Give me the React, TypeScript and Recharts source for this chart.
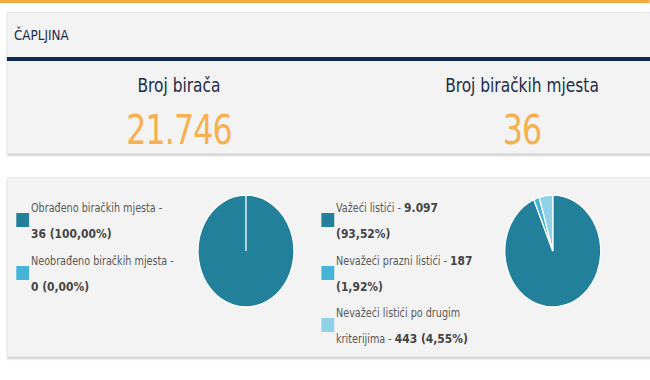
import { PieChart, Pie, Cell } from 'recharts';

// horizontal squeeze of the original screenshot
const SX = 0.857;

const municipality = 'ČAPLJINA';
const statLabels = ['Broj birača', 'Broj biračkih mjesta'];
const statValues = ['21.746', '36'];

const stationLabels = ['Obrađeno biračkih mjesta', 'Neobrađeno biračkih mjesta'];
const stationValues = [36, 0];

const ballotLabels = ['Važeći listići', 'Nevažeći prazni listići', 'Nevažeći listići po drugim kriterijima'];
const ballotValues = [9097, 187, 443];

const COLORS = ['#23809b', '#45b4d6', '#8fd1e7'];

const fmtInt = (n: number) => n.toString().replace(/\B(?=(\d{3})+(?!\d))/g, '.');
const fmtPct = (n: number, total: number) =>
  (total ? (n / total) * 100 : 0).toFixed(2).replace('.', ',') + '%';

const font = '"DejaVu Sans", Verdana, sans-serif';
const narrow = '"DejaVu Sans Condensed", "DejaVu Sans", sans-serif';

function Swatch({ color, top, left }: { color: string; top: number; left: number }) {
  return (
    <div
      style={{
        position: 'absolute',
        left,
        top,
        width: 15,
        height: 14,
        backgroundColor: color,
      }}
    />
  );
}

function Line({ top, left, children }: { top: number; left: number; children: React.ReactNode }) {
  return (
    <div
      style={{
        position: 'absolute',
        left,
        top: top - 10,
        height: 20,
        lineHeight: '20px',
        fontSize: 12.5,
        fontFamily: narrow,
        fontStretch: 'condensed',
        color: '#595959',
        whiteSpace: 'nowrap',
      }}
    >
      {children}
    </div>
  );
}

const B = ({ children }: { children: React.ReactNode }) => (
  <b style={{ color: '#444', fontFamily: font, fontStretch: 'normal' }}>{children}</b>
);

function SmallPie({ values, cx }: { values: number[]; cx: number }) {
  const data = values.map((v, i) => ({ name: String(i), value: v }));
  return (
    <div style={{ position: 'absolute', left: cx - 65, top: 251 - 65 }}>
      <PieChart width={130} height={130} margin={{ top: 0, right: 0, bottom: 0, left: 0 }}>
        <Pie
          data={data}
          dataKey="value"
          cx="50%"
          cy="50%"
          outerRadius={56}
          startAngle={90}
          endAngle={-270}
          stroke="#ffffff"
          strokeWidth={1.5}
          isAnimationActive={false}
        >
          {data.map((_, i) => (
            <Cell key={i} fill={COLORS[i]} />
          ))}
        </Pie>
      </PieChart>
    </div>
  );
}

export default function App() {
  const stTotal = stationValues.reduce((a, b) => a + b, 0);
  const blTotal = ballotValues.reduce((a, b) => a + b, 0);
  const x = (v: number) => v / SX;

  return (
    <div
      style={{
        position: 'fixed',
        left: 0,
        top: 0,
        width: 650,
        height: 380,
        overflow: 'hidden',
        background: '#ffffff',
        fontFamily: font,
      }}
    >
      <div
        style={{
          position: 'absolute',
          left: 0,
          top: 0,
          width: x(650),
          height: 380,
          transform: `scaleX(${SX})`,
          transformOrigin: '0 0',
        }}
      >
        {/* top accent */}
        <div style={{ position: 'absolute', left: 0, top: 0, width: '100%', height: 3, background: '#f5a83c' }} />

        {/* stats panel */}
        <div
          style={{
            position: 'absolute',
            left: x(7),
            top: 12,
            width: x(700),
            height: 140,
            background: '#f3f3f3',
            border: '1px solid #e6e6e6',
            boxShadow: '0 2px 2px rgba(0,0,0,0.18)',
          }}
        />
        <div
          style={{
            position: 'absolute',
            left: x(14),
            top: 26,
            fontSize: 14,
            lineHeight: '18px',
            color: '#1d2c4c',
          }}
        >
          {municipality}
        </div>
        <div style={{ position: 'absolute', left: x(7), top: 57, width: x(700), height: 4, background: '#0e2b52' }} />
        {statLabels.map((l, i) => {
          const cx = x(i === 0 ? 179 : 522);
          return (
            <div key={l}>
              <div
                style={{
                  position: 'absolute',
                  left: cx - 150,
                  width: 300,
                  top: 72,
                  textAlign: 'center',
                  fontSize: 20,
                  lineHeight: '26px',
                  fontFamily: narrow,
                  fontStretch: 'condensed',
                  color: '#1d2c4c',
                }}
              >
                {l}
              </div>
              <div
                style={{
                  position: 'absolute',
                  left: cx - 150,
                  width: 300,
                  top: 105,
                  textAlign: 'center',
                  fontSize: 41,
                  lineHeight: '50px',
                  letterSpacing: -1,
                  fontFamily: narrow,
                  fontStretch: 'condensed',
                  color: '#f6b04f',
                }}
              >
                {statValues[i]}
              </div>
            </div>
          );
        })}

        {/* pies panel */}
        <div
          style={{
            position: 'absolute',
            left: x(7),
            top: 177,
            width: x(700),
            height: 178,
            background: '#f3f3f3',
            border: '1px solid #e8e8e8',
            boxShadow: '0 2px 2px rgba(0,0,0,0.18)',
          }}
        />

        {/* left legend */}
        <Swatch color={COLORS[0]} left={x(16)} top={213} />
        <Line left={x(31)} top={208}>{stationLabels[0]} -</Line>
        <Line left={x(31)} top={234}>
          <B>
            {fmtInt(stationValues[0])} ({fmtPct(stationValues[0], stTotal)})
          </B>
        </Line>
        <Swatch color={COLORS[1]} left={x(16)} top={266} />
        <Line left={x(31)} top={261}>{stationLabels[1]} -</Line>
        <Line left={x(31)} top={287}>
          <B>
            {fmtInt(stationValues[1])} ({fmtPct(stationValues[1], stTotal)})
          </B>
        </Line>
        <SmallPie values={stationValues} cx={x(246)} />

        {/* right legend */}
        <Swatch color={COLORS[0]} left={x(321)} top={213} />
        <Line left={x(336)} top={208}>
          {ballotLabels[0]} - <B>{fmtInt(ballotValues[0])}</B>
        </Line>
        <Line left={x(336)} top={234}>
          <B>({fmtPct(ballotValues[0], blTotal)})</B>
        </Line>
        <Swatch color={COLORS[1]} left={x(321)} top={266} />
        <Line left={x(336)} top={261}>
          {ballotLabels[1]} - <B>{fmtInt(ballotValues[1])}</B>
        </Line>
        <Line left={x(336)} top={287}>
          <B>({fmtPct(ballotValues[1], blTotal)})</B>
        </Line>
        <Swatch color={COLORS[2]} left={x(321)} top={318} />
        <Line left={x(336)} top={313}>{ballotLabels[2].split(' ').slice(0, 4).join(' ')}</Line>
        <Line left={x(336)} top={339}>
          {ballotLabels[2].split(' ').slice(4).join(' ')} -{' '}
          <B>
            {fmtInt(ballotValues[2])} ({fmtPct(ballotValues[2], blTotal)})
          </B>
        </Line>
        <SmallPie values={ballotValues} cx={x(553)} />
      </div>
    </div>
  );
}
